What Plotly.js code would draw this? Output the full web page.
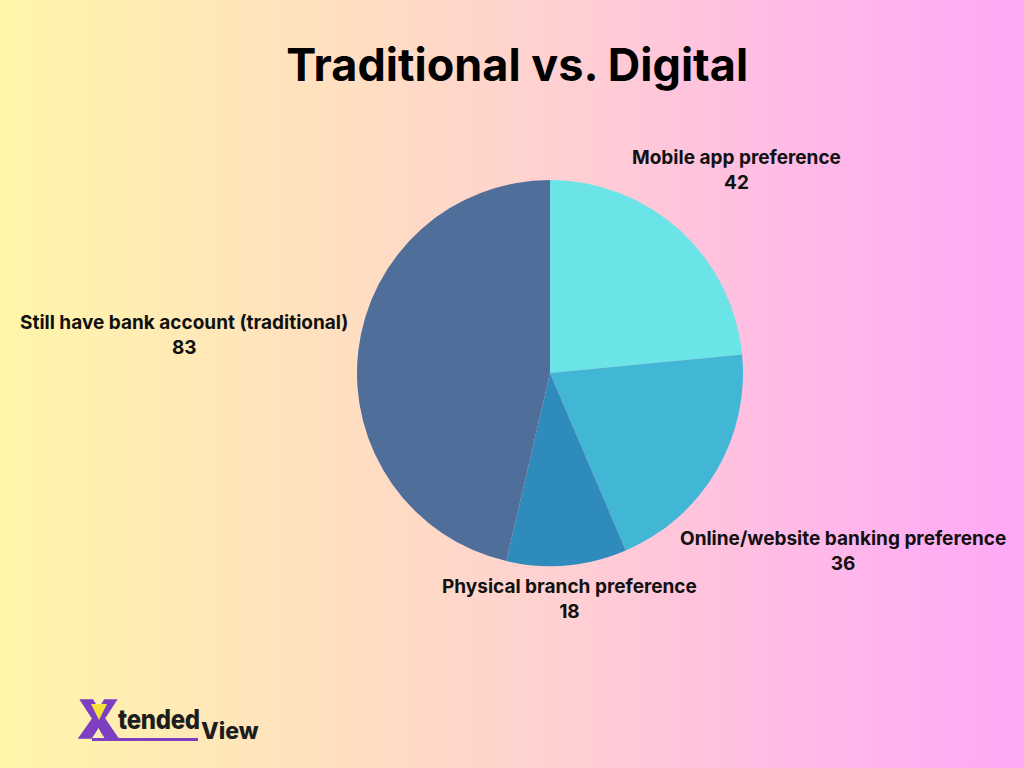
<!DOCTYPE html>
<html>
<head>
<meta charset="utf-8">
<script src="https://cdn.plot.ly/plotly-3.0.1.min.js"></script>
<style>
  html, body { margin:0; padding:0; width:1024px; height:768px; overflow:hidden; }
  body { background: linear-gradient(to right, #FFF6A9 0%, #FFE1BE 30%, #FFD0D2 55%, #FFB8E8 80%, #FFA8F7 100%); font-family: Inter, "Noto Sans", sans-serif; }
  #chart { position:absolute; left:0; top:0; width:1024px; height:768px; }
  #logo { position:absolute; left:78px; top:700px; width:200px; height:50px; }
  #logo .x { position:absolute; left:0px; top:-6px; font-size:52px; font-weight:900; color:#7D3FC0; -webkit-text-stroke:1.5px #7D3FC0; line-height:52px; }
  #logo .xin { position:absolute; left:13px; top:4px; width:16px; height:16px; background:#F4E23A; clip-path: polygon(0 0,100% 0,50% 100%); }
  #logo .t { position:absolute; left:40px; top:9px; font-size:24px; font-weight:800; color:#1d1d1d; line-height:26px; letter-spacing:-0.3px; transform:scaleY(1.12); transform-origin:left bottom; }
  #logo .u { position:absolute; left:14px; top:38px; width:106px; height:3px; background:#7D3FC0; }
  #logo .v { position:absolute; left:123px; top:19px; font-size:23px; font-weight:800; color:#1d1d1d; line-height:24px; }
</style>
</head>
<body>
<div id="chart"></div>
<div id="logo"><span class="x">X</span><div class="xin"></div><span class="t">tended</span><div class="u"></div><span class="v">View</span></div>
<script>
const categories = ["Mobile app preference", "Online/website banking preference", "Physical branch preference", "Still have bank account (traditional)"];
const values = [42, 36, 18, 83];
const colors = ["#6BE4E8", "#42B7D5", "#2E8BBB", "#506E9A"];
const titleText = "Traditional vs. Digital";
// label anchor positions (paper fraction)
const labelPos = [[0.7188, 0.7786], [0.8232, 0.2832], [0.5557, 0.2207], [0.1797, 0.5638]];

const trace = {
  type: "pie",
  labels: categories,
  values: values,
  sort: false,
  direction: "clockwise",
  rotation: 0,
  marker: { colors: colors, line: { width: 0 } },
  textinfo: "none",
  hoverinfo: "label+value",
  showlegend: false,
  domain: { x: [0.3486, 0.7256], y: [0.263, 0.7656] }
};

const annotations = categories.map((c, i) => ({
  xref: "paper", yref: "paper", x: labelPos[i][0], y: labelPos[i][1],
  xanchor: "center", yanchor: "middle", showarrow: false, align: "center",
  text: "<b>" + c + "</b><br><b>" + values[i] + "</b>",
  font: { family: "Inter, 'Noto Sans', sans-serif", size: 19, color: "#111" }
}));

const layout = {
  width: 1024, height: 768,
  margin: { l: 0, r: 0, t: 0, b: 0 },
  paper_bgcolor: "rgba(0,0,0,0)",
  plot_bgcolor: "rgba(0,0,0,0)",
  title: { text: "<b>" + titleText + "</b>", x: 0.505, xanchor: "center", y: 0.915, yanchor: "middle",
           font: { family: "Inter, 'Noto Sans', sans-serif", size: 45, color: "#000" } },
  annotations: annotations
};

Plotly.newPlot("chart", [trace], layout, { displayModeBar: false, staticPlot: true });
</script>
</body>
</html>
